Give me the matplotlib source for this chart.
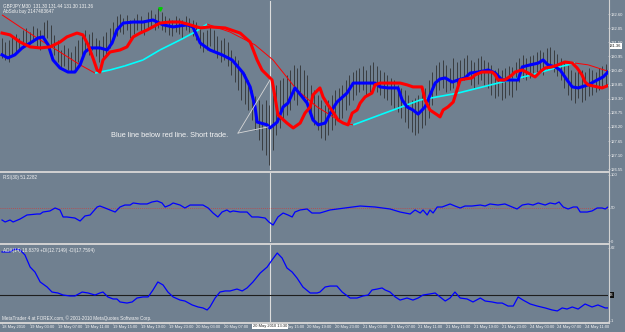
import matplotlib
matplotlib.use("Agg")
import matplotlib.pyplot as plt
from matplotlib.collections import LineCollection
from matplotlib.lines import Line2D
import numpy as np

# ---- data (GBPJPY M30, bars indexed from 18 May 23:00) ----
highs = [131.67, 131.51, 131.59, 131.75, 131.82, 131.67, 131.98, 132.06, 131.90, 132.14,
         132.06, 131.98, 132.29, 132.37, 132.18, 131.79, 131.59, 131.20, 131.40, 131.28,
         131.12, 131.36, 131.59, 131.75, 131.98, 131.82, 131.90, 131.67, 131.59, 131.75,
         131.90, 132.06, 132.29, 132.53, 132.60, 132.45, 132.57, 132.37, 132.45, 132.60,
         132.53, 132.37, 132.68, 132.76, 132.60, 132.84, 132.68, 132.53, 132.45, 132.37,
         132.53, 132.45, 132.37, 132.53, 132.45, 132.37, 132.29, 132.06, 131.90, 131.98,
         132.14, 131.98, 131.75, 131.59, 131.67, 131.51, 131.20, 130.97, 130.81, 130.42,
         130.26, 130.03, 129.64, 129.41, 129.25, 129.09, 129.25, 129.06, 129.45, 129.84,
         130.03, 130.11, 130.23, 130.42, 130.62, 130.50, 130.62, 130.42, 130.23, 129.84,
         129.64, 129.45, 129.25, 129.06, 129.25, 129.45, 129.64, 129.72, 129.84, 130.03,
         130.23, 130.34, 130.42, 130.50, 130.58, 130.42, 130.62, 130.73, 130.58, 130.42,
         130.34, 130.23, 130.11, 130.03, 129.84, 129.72, 129.64, 129.45, 129.25, 129.33,
         129.45, 129.56, 129.72, 130.03, 130.34, 130.62, 130.73, 130.81, 130.62, 130.50,
         130.89, 130.73, 130.81, 130.89, 131.01, 130.81, 130.73, 130.89, 130.97, 130.81,
         130.73, 130.62, 130.42, 130.50, 130.42, 130.50, 130.58, 130.54, 130.73, 130.89,
         131.01, 130.89, 130.97, 131.01, 131.12, 131.20, 131.12, 131.28, 131.32, 131.20,
         131.04, 130.89, 130.73, 130.62, 130.42, 130.34, 130.50, 130.42, 130.34, 130.50,
         130.42, 130.34, 130.50, 130.58, 130.65]
lows = [130.89, 130.81, 130.73, 131.01, 131.12, 131.20, 131.28, 131.40, 131.43, 131.51,
        131.36, 131.20, 131.59, 131.67, 131.40, 131.01, 130.73, 130.50, 130.58, 130.42,
        130.34, 130.42, 130.73, 130.89, 131.12, 131.01, 131.20, 130.97, 130.73, 130.89,
        131.04, 131.28, 131.59, 131.75, 131.90, 131.82, 131.98, 131.67, 131.82, 131.98,
        131.90, 131.79, 132.06, 132.14, 131.98, 132.06, 131.98, 131.90, 131.79, 131.75,
        131.90, 131.82, 131.67, 131.98, 131.90, 131.75, 131.59, 131.28, 131.12, 131.20,
        131.36, 131.12, 130.89, 130.73, 130.81, 130.58, 130.23, 129.95, 129.64, 129.25,
        129.09, 128.86, 128.47, 128.08, 127.69, 127.30, 127.10, 126.72, 127.30, 127.89,
        128.16, 128.47, 128.67, 128.86, 129.25, 129.06, 129.45, 129.25, 129.06, 128.67,
        128.28, 128.08, 127.77, 127.69, 127.89, 128.08, 128.28, 128.47, 128.55, 128.86,
        129.06, 129.25, 129.45, 129.56, 129.64, 129.45, 129.56, 129.72, 129.56, 129.45,
        129.33, 129.25, 129.06, 128.94, 128.78, 128.55, 128.39, 128.16, 128.00, 127.89,
        127.96, 128.16, 128.28, 128.55, 129.06, 129.45, 129.64, 129.72, 129.56, 129.64,
        129.72, 129.84, 129.95, 130.03, 130.11, 129.84, 129.72, 129.87, 130.03, 129.84,
        129.72, 129.45, 129.33, 129.41, 129.25, 129.33, 129.45, 129.37, 129.64, 129.95,
        130.11, 130.03, 130.11, 130.19, 130.26, 130.34, 130.23, 130.42, 130.54, 130.34,
        130.19, 130.03, 129.72, 129.45, 129.25, 129.13, 129.33, 129.17, 129.25, 129.41,
        129.45, 129.56, 129.64, 129.72, 129.84]

blue_x = [0, 1.7, 3.7, 5.8, 8.1, 10.4, 11.8, 13.3, 14.7, 16.7, 19.0, 21.0, 22.5, 23.9, 25.4,
          28.2, 30.3, 31.7, 33.1, 34.9, 37.8, 40.6, 43.5, 46.4, 49.3, 53.3, 55.0, 57.1, 59.9,
          63.4, 66.3, 69.5, 71.5, 72.9, 73.5, 76.4, 77.2, 79.3, 81.0, 82.4, 84.4, 86.5, 87.9,
          89.6, 91.1, 93.1, 95.1, 96.5, 99.4, 101.2, 105.2, 107.5, 108.9, 111.2, 114.1, 115.3,
          116.7, 118.4, 119.9, 121.9, 124.8, 126.2, 127.7, 129.7, 131.4, 133.4, 134.9, 137.2,
          140.1, 142.1, 144.1, 147.0, 148.7, 149.9, 152.2, 154.5, 155.9, 157.3, 159.4, 160.8,
          162.8, 164.3, 166.0, 168.9, 171.5, 173.2, 174.6]
blue_y = [131.01, 130.89, 131.01, 131.28, 131.47, 131.67, 131.71, 131.40, 130.81, 130.50,
          130.34, 130.34, 130.62, 131.12, 131.28, 131.28, 131.20, 131.47, 131.98, 132.25,
          132.29, 132.29, 132.37, 132.18, 132.10, 132.18, 132.10, 131.47, 131.20, 131.01,
          130.81, 130.30, 129.76, 128.98, 128.39, 128.28, 128.16, 128.39, 128.98, 129.13,
          129.72, 129.37, 129.13, 128.47, 128.28, 128.35, 128.86, 129.17, 129.52, 129.91,
          129.91, 129.91, 129.76, 129.72, 129.72, 129.25, 128.98, 128.86, 128.70, 128.98,
          129.91, 130.07, 130.11, 129.95, 130.03, 130.11, 130.30, 130.34, 130.42, 130.30,
          130.03, 130.03, 130.03, 130.54, 130.62, 130.69, 130.81, 130.62, 130.54, 130.42,
          130.03, 129.76, 129.72, 129.84, 130.03, 130.15, 130.34]

red_x = [0, 2.3, 5.2, 8.1, 11.0, 13.8, 16.7, 18.7, 21.6, 23.3, 24.8, 26.2, 27.4, 28.2, 29.1,
         31.1, 34.0, 36.0, 37.8, 39.8, 41.8, 45.5, 48.4, 51.3, 54.2, 57.1, 59.9, 64.3, 68.6,
         71.5, 73.5, 74.9, 77.8, 78.7, 79.5, 82.1, 83.9, 85.9, 87.3, 88.8, 89.6, 91.6, 92.5,
         93.9, 95.4, 96.8, 98.3, 99.7, 100.9, 102.3, 103.2, 104.6, 106.6, 107.5, 108.9, 114.7,
         116.7, 118.4, 121.0, 121.9, 123.3, 125.4, 126.2, 127.1, 128.5, 130.0, 131.1, 132.0,
         133.4, 135.4, 136.3, 138.3, 141.2, 142.1, 142.9, 144.9, 147.0, 147.8, 149.9, 151.6,
         153.6, 155.0, 156.5, 158.5, 160.2, 162.2, 164.3, 165.7, 167.1, 168.0, 168.9, 171.5,
         172.9, 174.4]
red_y = [131.86, 131.79, 131.51, 131.32, 131.28, 131.32, 131.51, 131.71, 131.86, 131.79,
         131.40, 130.89, 130.42, 130.34, 130.81, 131.12, 131.20, 131.32, 131.71, 131.86,
         131.98, 132.25, 132.29, 132.29, 132.18, 132.06, 132.10, 132.06, 131.86, 131.51,
         130.81, 130.42, 130.03, 129.33, 128.67, 128.35, 128.16, 128.35, 128.74, 128.98,
         129.45, 129.72, 129.37, 129.06, 128.78, 128.47, 128.35, 128.28, 128.74, 128.86,
         129.13, 129.37, 129.52, 129.84, 129.91, 129.91, 129.84, 129.76, 129.76, 129.25,
         128.86, 128.67, 128.59, 128.86, 128.98, 129.17, 129.64, 130.03, 130.07, 130.11,
         130.23, 130.34, 130.34, 130.23, 130.03, 130.03, 130.23, 130.34, 130.42, 130.30,
         130.15, 130.34, 130.50, 130.54, 130.62, 130.73, 130.69, 130.50, 130.23, 129.95,
         129.84, 129.76, 129.72, 129.80]

trend_x = [0, 5.2, 11.0, 16.7, 22.5, 26.8, 31.1, 35.4, 40.6, 45.5, 51.3, 55.6, 59.1, 65.7,
           72.9, 78.1, 85.0, 90.8, 98.3, 101.2, 108.9, 120.5, 131.4, 142.9, 152.7, 159.4,
           165.1, 168.9, 174.4]
trend_y = [132.57, 132.10, 131.59, 131.12, 130.62, 130.30, 130.42, 130.58, 130.81, 131.20,
           131.59, 131.90, 132.21, 131.90, 131.40, 130.81, 129.64, 128.98, 128.35, 128.28,
           128.67, 129.25, 129.52, 129.91, 130.23, 130.50, 130.69, 130.62, 130.38]

rsi_x = [0, 0.9, 2.3, 3.2, 5.2, 7.2, 10.1, 11.0, 11.8, 13.8, 15.3, 16.7, 17.6, 18.7, 21.0,
         22.5, 23.9, 25.4, 27.4, 28.2, 29.7, 31.1, 32.6, 34.0, 35.4, 36.9, 37.8, 39.8, 41.8,
         43.2, 44.7, 46.1, 47.0, 48.4, 49.3, 51.3, 52.7, 54.2, 56.2, 57.9, 59.4, 60.8, 62.2,
         63.4, 64.8, 65.7, 66.6, 68.6, 70.6, 72.0, 73.8, 75.8, 76.9, 78.1, 79.5, 81.0, 82.4,
         83.6, 84.4, 85.9, 87.9, 89.3, 91.6, 94.5, 98.8, 103.2, 107.5, 111.8, 114.7, 117.6,
         119.0, 120.5, 121.3, 122.5, 123.3, 124.2, 125.4, 126.8, 129.1, 130.5, 132.0, 133.4,
         135.4, 137.8, 139.2, 140.6, 142.9, 144.9, 147.0, 148.4, 149.9, 151.6, 153.0, 154.5,
         156.5, 157.9, 159.4, 160.5, 161.7, 163.1, 164.6, 165.7, 166.6, 168.6, 170.0, 171.5,
         172.9, 173.8, 174.6]
rsi_y = [31.8, 28.8, 31.8, 28.8, 33.3, 39.4, 40.9, 40.9, 43.9, 45.5, 50.0, 47.0, 36.4, 36.4,
         34.8, 30.3, 37.9, 39.4, 51.5, 53.0, 50.0, 47.0, 43.9, 51.5, 54.5, 54.5, 57.6, 56.1,
         56.1, 59.1, 60.6, 57.6, 51.5, 54.5, 57.6, 54.5, 50.0, 54.5, 54.5, 54.5, 50.0, 42.4,
         36.4, 43.9, 47.0, 43.9, 45.5, 43.9, 43.9, 36.4, 36.4, 34.8, 28.8, 24.2, 36.4, 42.4,
         39.4, 36.4, 43.9, 47.0, 48.5, 42.4, 42.4, 47.0, 50.0, 53.0, 51.5, 48.5, 43.9, 40.9,
         47.0, 42.4, 47.0, 39.4, 47.0, 42.4, 51.5, 51.5, 56.1, 53.0, 50.0, 53.0, 53.0, 54.5,
         53.0, 56.1, 54.5, 56.1, 51.5, 48.5, 54.5, 56.1, 54.5, 57.6, 54.5, 57.6, 56.1, 59.1,
         51.5, 48.5, 51.5, 51.5, 43.9, 43.9, 45.5, 50.0, 50.0, 48.5, 51.5]

adx_x = [0, 2.3, 3.7, 5.2, 6.6, 8.1, 9.5, 11.0, 13.0, 14.4, 16.1, 17.6, 19.6, 21.0, 23.1,
         24.8, 26.8, 28.2, 29.1, 30.5, 32.0, 33.1, 34.0, 36.0, 37.5, 38.9, 40.6, 42.1, 43.5,
         44.9, 46.4, 47.8, 49.3, 51.3, 52.7, 54.8, 56.5, 57.9, 59.1, 59.9, 61.4, 62.8, 64.3,
         65.7, 67.7, 69.2, 70.6, 72.3, 74.4, 76.4, 77.8, 79.3, 80.7, 82.1, 83.6, 85.0, 86.7,
         88.8, 90.8, 91.6, 93.1, 94.5, 96.5, 98.0, 100.3, 102.3, 104.0, 105.5, 106.6, 108.1,
         109.5, 110.4, 111.8, 113.3, 114.7, 116.7, 118.4, 119.9, 121.3, 123.3, 124.8, 126.2,
         127.7, 129.1, 130.5, 132.0, 134.0, 135.7, 137.8, 139.2, 141.2, 142.7, 144.1, 145.8,
         147.3, 148.7, 150.1, 152.2, 154.2, 156.5, 158.5, 160.0, 161.4, 162.8, 164.3, 166.0,
         168.0, 170.0, 171.7, 173.8, 174.6]
adx_y = [58.7, 58.7, 61.2, 60.3, 56.2, 46.1, 41.9, 33.6, 29.4, 25.2, 24.4, 22.7, 21.9, 21.9,
         25.2, 24.4, 22.7, 24.4, 25.2, 21.1, 19.4, 19.4, 16.9, 16.0, 16.9, 20.2, 21.1, 21.1,
         26.9, 33.6, 31.1, 25.2, 21.1, 18.5, 17.7, 14.4, 12.7, 11.9, 10.2, 12.7, 20.2, 25.2,
         26.1, 26.1, 27.7, 26.1, 28.6, 33.6, 41.1, 46.1, 52.0, 57.8, 53.6, 45.3, 41.9, 36.9,
         29.4, 24.4, 24.4, 25.2, 29.4, 30.2, 30.2, 25.2, 20.2, 20.2, 21.9, 22.7, 26.9, 27.7,
         28.6, 26.9, 25.2, 21.1, 18.5, 20.2, 18.5, 20.2, 22.7, 23.6, 24.4, 21.1, 17.7, 20.2,
         25.2, 20.2, 19.4, 16.9, 20.2, 17.7, 16.9, 16.0, 16.0, 13.5, 13.5, 21.1, 18.5, 15.2,
         13.5, 11.9, 10.2, 9.4, 11.9, 11.0, 12.7, 11.0, 15.2, 12.7, 14.4, 11.9, 11.9]

price_ticks = [132.60, 132.05, 131.50, 130.95, 130.40, 129.85, 129.30, 128.75, 128.20,
               127.65, 127.10, 126.55]
time_labels = ["18 May 2010", "19 May 03:00", "19 May 07:00", "19 May 11:00", "19 May 15:00",
               "19 May 19:00", "19 May 23:00", "20 May 03:00", "20 May 07:00", "20 May 11:00",
               "20 May 15:00", "20 May 19:00", "20 May 23:00", "21 May 03:00", "21 May 07:00",
               "21 May 11:00", "21 May 15:00", "21 May 19:00", "21 May 23:00", "24 May 03:00",
               "24 May 07:00", "24 May 11:00"]
last_price = 131.36
cursor_bar = 77.2
signal_bar, signal_price = 45.4, 132.80
adx_level = 22.7

# ---- layout ----
W, H = 625, 332
BG = "#708090"
TXT = "#f4f4f4"
SEP = "#d2d2d2"
SMALL = "Liberation Sans"


def box(x0, y0, x1, y1):
    # pixel rectangle -> figure fraction
    return [x0 / W, 1 - y1 / H, (x1 - x0) / W, (y1 - y0) / H]


fig = plt.figure(figsize=(W / 100, H / 100), dpi=100, facecolor=BG)
ax = fig.add_axes(box(0, 1, 608, 170), facecolor=BG)
ax_rsi = fig.add_axes(box(0, 173, 608, 242), facecolor=BG)
ax_adx = fig.add_axes(box(0, 245, 608, 322), facecolor=BG)

for a in (ax, ax_rsi, ax_adx):
    for s in a.spines.values():
        s.set_visible(False)
    a.set_xlim(-0.58, 174.6)
    a.yaxis.tick_right()
    a.tick_params(axis="y", length=1.5, width=0.5, color=SEP, labelsize=3.0,
                  labelcolor=TXT, pad=0.8)
    a.tick_params(axis="x", bottom=False, labelbottom=False)
    for lab in a.get_yticklabels():
        lab.set_family(SMALL)
    a.axvline(cursor_bar, color="#dcdcdc", lw=0.8, zorder=1)

# main price panel
ax.set_ylim(126.52, 133.11)
ax.set_yticks(price_ticks)
ax.set_yticklabels([f"{p:.2f}" for p in price_ticks], family=SMALL)
bars = np.arange(len(highs))
ax.vlines(bars, lows, highs, color="#2c2c2c", lw=0.55, zorder=2)

tx = np.array(trend_x)
ty = np.array(trend_y)
segs = [[(tx[i], ty[i]), (tx[i + 1], ty[i + 1])] for i in range(len(tx) - 1)]
cols = ["#00ffff" if ty[i + 1] > ty[i] else "#ff0000" for i in range(len(tx) - 1)]
widths = [1.2 if c == "#00ffff" else 0.7 for c in cols]
ax.add_collection(LineCollection(segs, colors=cols, linewidths=widths, zorder=3))

ax.plot(blue_x, blue_y, color="#0000ff", lw=2.2, zorder=4, solid_joinstyle="round")
ax.plot(red_x, red_y, color="#ff0000", lw=2.2, zorder=5, solid_joinstyle="round")
ax.plot([signal_bar], [signal_price], marker="v", ms=2.5, color="#00d000", zorder=6)

ax.text(1.002, last_price, f"{last_price:.2f}", transform=ax.get_yaxis_transform(),
        fontsize=3.0, family=SMALL, color="#202020", va="center", ha="left",
        bbox=dict(boxstyle="square,pad=0.15", fc="white", ec="none"))

ax.text(48.4, 127.85, "Blue line below red line. Short trade.", fontsize=5.3,
        family="Liberation Sans", color=TXT, ha="center", va="center", zorder=7)
ax.plot([68.0, 77.2], [127.96, 130.03], color="#d8d8d8", lw=0.6, zorder=7)
ax.plot([68.0, 76.7], [127.96, 128.20], color="#d8d8d8", lw=0.6, zorder=7)

ax.text(0.005, 0.985, "GBPJPY,M30  131.30 131.44 131.30 131.36", transform=ax.transAxes,
        fontsize=3.3, family=SMALL, color=TXT, va="top", ha="left")
ax.text(0.005, 0.955, "AbSolu buy 2147483647", transform=ax.transAxes,
        fontsize=3.3, family=SMALL, color=TXT, va="top", ha="left")

# RSI panel
ax_rsi.set_ylim(-1.5, 103.0)
ax_rsi.set_yticks([100, 50, 0])
ax_rsi.set_yticklabels(["100", "50", "0"], family=SMALL)
ax_rsi.axhline(50, color="#c84040", lw=0.6, ls=(0, (1, 1.5)), zorder=2)
ax_rsi.plot(rsi_x, rsi_y, color="#0000ff", lw=0.9, zorder=3)
ax_rsi.text(0.005, 0.97, "RSI(30) 51.2282", transform=ax_rsi.transAxes,
            fontsize=3.3, family=SMALL, color=TXT, va="top", ha="left")

# ADX panel
ax_adx.set_ylim(0.16, 64.5)
ax_adx.set_yticks([62, 1])
ax_adx.set_yticklabels(["62", "1"], family=SMALL)
ax_adx.axhline(adx_level, color="#1e1e1e", lw=0.8, zorder=2)
ax_adx.plot(adx_x, adx_y, color="#0000ff", lw=0.9, zorder=3)
ax_adx.text(1.002, adx_level, "23", transform=ax_adx.get_yaxis_transform(),
            fontsize=3.0, family=SMALL, color="white", va="center", ha="left",
            bbox=dict(boxstyle="square,pad=0.15", fc="#101010", ec="none"))
ax_adx.text(0.005, 0.96, "ADX(14) 18.8379 +DI(12.7149) -DI(17.7594)",
            transform=ax_adx.transAxes, fontsize=3.3, family=SMALL, color=TXT,
            va="top", ha="left")
ax_adx.text(0.003, 0.01, "MetaTrader 4 at FOREX.com, \u00a9 2001-2010 MetaQuotes Software Corp.",
            transform=ax_adx.transAxes, fontsize=3.3, family=SMALL, color=TXT,
            va="bottom", ha="left")

ax_adx.tick_params(axis="x", bottom=True, labelbottom=True, length=1.5, width=0.5,
                   color=SEP, labelsize=2.9, labelcolor=TXT, pad=0.8)
ax_adx.set_xticks(np.arange(len(time_labels)) * 8)
ax_adx.set_xticklabels(time_labels, ha="left", family=SMALL)
ax_adx.text(cursor_bar, -0.025, "20 May 2010 13:30", transform=ax_adx.get_xaxis_transform(),
            fontsize=2.9, family=SMALL, color="#202020", ha="center", va="top", zorder=10,
            bbox=dict(boxstyle="square,pad=0.25", fc="white", ec="none"))

# panel separators and the price-scale border
for y in (171.5, 243.5, 322.5):
    fig.add_artist(Line2D([0, 608 / W], [1 - y / H, 1 - y / H], color=SEP, lw=1.4))
fig.add_artist(Line2D([608.5 / W, 608.5 / W], [1 - 322.5 / H, 1], color=SEP, lw=0.8))

fig.savefig("out.png", dpi=100, facecolor=BG)
